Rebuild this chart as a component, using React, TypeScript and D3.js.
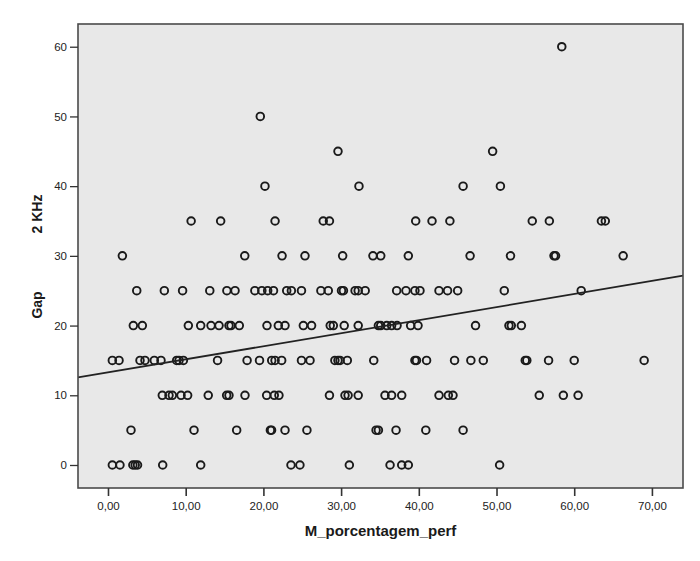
import React, { useEffect, useRef } from 'react';
import * as d3 from 'd3';

// M_porcentagem_perf values, grouped by their Gap 2 KHz value
const gap60 = [58.4];
const gap50 = [19.6];
const gap45 = [29.6, 49.5];
const gap40 = [20.2, 32.3, 45.7, 50.5];
const gap35 = [10.7, 14.5, 21.5, 27.7, 28.5, 39.6, 41.7, 44.0, 54.6, 56.8, 63.5, 64.0];
const gap30 = [1.85, 17.6, 22.4, 25.35, 30.2, 34.1, 35.1, 38.65, 46.6, 51.8, 57.4, 57.6, 66.3];
const gap25 = [3.7, 7.25, 9.6, 13.1, 15.3, 16.35, 18.9, 19.8, 20.55, 21.3, 23.0, 23.6, 24.9, 27.4, 28.35,
  30.05, 30.3, 31.8, 32.2, 33.1, 37.15, 38.35, 39.5, 40.15, 42.6, 43.7, 45.0, 51.0, 60.9];
const gap20 = [3.26, 4.42, 10.34, 11.93, 13.26, 14.29, 15.57, 15.83, 16.9, 20.46, 21.92, 22.78, 25.14, 26.2,
  28.6, 29.0, 30.4, 32.2, 34.8, 35.1, 35.87, 36.5, 37.2, 38.95, 39.9, 47.3, 51.6, 51.9, 53.2];
const gap15 = [0.56, 1.42, 4.12, 4.76, 5.96, 6.82, 8.84, 9.14, 9.7, 14.1, 17.9, 19.5, 21.07, 21.5, 22.35,
  24.9, 26.0, 29.2, 29.6, 29.86, 30.8, 34.2, 39.5, 39.7, 41.0, 44.6, 46.7, 48.3, 53.7, 53.9, 56.7, 60.0, 69.0];
const gap10 = [6.99, 7.85, 8.28, 9.4, 10.25, 12.9, 15.27, 15.57, 17.63, 20.42, 21.4, 22.0, 28.5, 30.5, 30.9,
  32.2, 35.65, 36.5, 37.8, 42.6, 43.8, 44.4, 55.5, 58.6, 60.5];
const gap5 = [2.96, 11.07, 16.56, 20.9, 21.05, 22.78, 25.6, 34.5, 34.8, 37.07, 40.9, 45.7];
const gap0 = [0.56, 1.54, 3.2, 3.5, 3.8, 7.04, 11.93, 23.55, 24.7, 31.06, 36.3, 37.8, 38.65, 50.4];

const rows: [number, number[]][] = [
  [60, gap60], [50, gap50], [45, gap45], [40, gap40], [35, gap35], [30, gap30],
  [25, gap25], [20, gap20], [15, gap15], [10, gap10], [5, gap5], [0, gap0],
];

// linear fit line (intercept, slope) as drawn in the chart
const fitIntercept = 13.28;
const fitSlope = 0.1875;

const xTicks = [0, 10, 20, 30, 40, 50, 60, 70];
const yTicks = [0, 10, 20, 30, 40, 50, 60];

const App = () => {
  const ref = useRef<SVGSVGElement>(null);

  useEffect(() => {
    const width = 700;
    const height = 561;
    const left = 78, right = 683, top = 24, bottom = 488;

    const x = d3.scaleLinear().domain([-3.86, 74.0]).range([left, right]);
    const y = d3.scaleLinear().domain([-3.3, 63.26]).range([bottom, top]);

    const svg = d3.select(ref.current);
    svg.selectAll('*').remove();
    svg.attr('width', width).attr('height', height)
      .style('font-family', 'Liberation Sans, Arial, sans-serif');

    svg.append('rect').attr('width', width).attr('height', height).attr('fill', '#fff');

    // plot area
    svg.append('rect')
      .attr('x', left).attr('y', top)
      .attr('width', right - left).attr('height', bottom - top)
      .attr('fill', '#e8e8e8');

    const points = rows.flatMap(([g, xs]) => xs.map(v => ({ x: v, y: g })));

    svg.append('g')
      .selectAll('circle')
      .data(points)
      .join('circle')
      .attr('cx', d => x(d.x))
      .attr('cy', d => y(d.y))
      .attr('r', 3.8)
      .attr('fill', 'none')
      .attr('stroke', '#1a1a1a')
      .attr('stroke-width', 1.9);

    const [x0, x1] = x.domain();
    svg.append('line')
      .attr('x1', x(x0)).attr('y1', y(fitIntercept + fitSlope * x0))
      .attr('x2', x(x1)).attr('y2', y(fitIntercept + fitSlope * x1))
      .attr('stroke', '#222')
      .attr('stroke-width', 1.8);

    // frame
    svg.append('rect')
      .attr('x', left).attr('y', top)
      .attr('width', right - left).attr('height', bottom - top)
      .attr('fill', 'none')
      .attr('stroke', '#4a4a4a')
      .attr('stroke-width', 1.6);

    // x axis
    const xAxis = svg.append('g')
      .attr('transform', `translate(0,${bottom})`)
      .call(d3.axisBottom(x).tickValues(xTicks).tickSize(8).tickPadding(6)
        .tickFormat(d => d3.format('.2f')(d as number).replace('.', ',')));
    xAxis.select('.domain').remove();
    xAxis.selectAll('line').attr('stroke', '#333').attr('stroke-width', 1.6);
    xAxis.selectAll('text').attr('fill', '#222').style('font-size', '11.5px');

    // y axis
    const yAxis = svg.append('g')
      .attr('transform', `translate(${left},0)`)
      .call(d3.axisLeft(y).tickValues(yTicks).tickSize(8).tickPadding(3));
    yAxis.select('.domain').remove();
    yAxis.selectAll('line').attr('stroke', '#333').attr('stroke-width', 1.3);
    yAxis.selectAll('text').attr('fill', '#222').style('font-size', '11.5px');

    // titles
    svg.append('text')
      .attr('x', (left + right) / 2).attr('y', 536)
      .attr('text-anchor', 'middle')
      .attr('font-weight', 'bold')
      .attr('font-size', 15)
      .attr('fill', '#1a1a1a')
      .text('M_porcentagem_perf');

    const yTitle = svg.append('g').attr('font-weight', 'bold').attr('font-size', 14).attr('fill', '#1a1a1a');
    yTitle.append('text')
      .attr('transform', 'translate(42,305) rotate(-90)')
      .attr('text-anchor', 'middle')
      .text('Gap');
    yTitle.append('text')
      .attr('transform', 'translate(42,214) rotate(-90)')
      .attr('text-anchor', 'middle')
      .text('2 KHz');
  }, []);

  return <svg ref={ref} style={{ position: 'absolute', left: 0, top: 0 }} />;
};

export default App;
